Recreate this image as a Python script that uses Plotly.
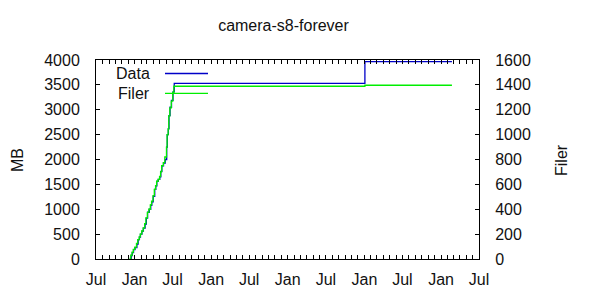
import plotly.graph_objects as go

# ---- data ----
data_dates = ["2017-12-11", "2017-12-16", "2017-12-21", "2017-12-27", "2018-01-03",
              "2018-01-12", "2018-01-18", "2018-01-24", "2018-01-29", "2018-02-05",
              "2018-02-12", "2018-02-20", "2018-02-26", "2018-03-04", "2018-03-12",
              "2018-03-19", "2018-03-24", "2018-03-31", "2018-04-07", "2018-04-12",
              "2018-04-17", "2018-04-24", "2018-05-01", "2018-05-06", "2018-05-11",
              "2018-05-19", "2018-05-27", "2018-06-03", "2018-06-06", "2018-06-11",
              "2018-06-14", "2018-06-19", "2018-06-26", "2018-07-03", "2018-07-09",
              "2021-01-03", "2022-02-22"]
data_mb = [15, 70, 130, 190, 230, 300, 390, 440, 500, 560, 620, 700, 820, 940, 1000,
           1080, 1150, 1260, 1400, 1470, 1560, 1600, 1650, 1760, 1870, 1930, 2000,
           2250, 2500, 2620, 2880, 3050, 3190, 3360, 3530, 3966, 3966]

filer_dates = ["2017-12-08", "2017-12-14", "2017-12-20", "2017-12-26", "2018-01-02",
               "2018-01-10", "2018-01-16", "2018-01-23", "2018-01-28", "2018-02-04",
               "2018-02-11", "2018-02-18", "2018-02-24", "2018-03-03", "2018-03-10",
               "2018-03-17", "2018-03-23", "2018-03-30", "2018-04-05", "2018-04-11",
               "2018-04-16", "2018-04-23", "2018-04-30", "2018-05-05", "2018-05-10",
               "2018-05-18", "2018-05-25", "2018-06-02", "2018-06-05", "2018-06-10",
               "2018-06-13", "2018-06-18", "2018-06-25", "2018-07-02", "2018-07-07",
               "2021-01-03", "2022-02-22"]
filer_count = [5, 30, 55, 78, 95, 125, 155, 178, 200, 225, 250, 285, 330, 375, 400,
               435, 465, 510, 560, 590, 625, 640, 665, 700, 750, 775, 820, 900, 1000,
               1045, 1150, 1215, 1270, 1340, 1389, 1397, 1397]

title_text = "camera-s8-forever"
series_names = ["Data", "Filer"]
y_title = "MB"
y2_title = "Filer"

# ---- layout constants (pixels) ----
W, H = 600, 300
L, R, T, B = 96, 479, 60, 259
FONT = "Liberation Sans, Arial, sans-serif"
FS = 16
BLUE = "#0000c8"
GREEN = "#00ee00"

def px_x(p):
    return (p - L) / (R - L)

def px_y(p):
    return (B - p) / (B - T)

fig = go.Figure()
fig.add_trace(go.Scatter(x=data_dates, y=data_mb, mode="lines", line_shape="hv",
                         line=dict(color=BLUE, width=1.3), name=series_names[0],
                         yaxis="y"))
fig.add_trace(go.Scatter(x=filer_dates, y=filer_count, mode="lines", line_shape="hv",
                         line=dict(color=GREEN, width=1.3), name=series_names[1],
                         yaxis="y2"))

axis_common = dict(showgrid=False, zeroline=False, showline=True, linecolor="black",
                   linewidth=1, ticks="inside", tickcolor="black", ticklen=4,
                   tickfont=dict(family=FONT, size=FS, color="#111"))

fig.update_layout(
    width=W, height=H,
    margin=dict(l=L, r=W - R, t=T, b=H - B),
    paper_bgcolor="white", plot_bgcolor="white",
    showlegend=False,
    title=dict(text=title_text, x=283.5 / W, y=1 - 25 / H, xanchor="center",
               yanchor="middle", xref="container", yref="container",
               font=dict(family=FONT, size=FS, color="#111")),
    xaxis=dict(type="date", range=["2017-07-01", "2022-07-01"], tick0="2017-07-01",
               dtick="M6", tickformat="%b", mirror="allticks", ticklabelstandoff=6,
               minor=dict(dtick="M1", ticks="inside", ticklen=2, tickcolor="black"),
               **axis_common),
    yaxis=dict(range=[0, 4000], dtick=500, ticklabelstandoff=12, **axis_common),
    yaxis2=dict(range=[0, 1600], dtick=200, overlaying="y", side="right",
                ticklabelstandoff=12, **axis_common),
)

ann_font = dict(family=FONT, size=FS, color="#111")
fig.add_annotation(text=series_names[0], xref="paper", yref="paper", x=px_x(152),
                   y=px_y(73.5), xanchor="right", yanchor="middle", showarrow=False,
                   font=ann_font)
fig.add_annotation(text=series_names[1], xref="paper", yref="paper", x=px_x(152),
                   y=px_y(93.3), xanchor="right", yanchor="middle", showarrow=False,
                   font=ann_font)
fig.add_shape(type="line", xref="paper", yref="paper", x0=px_x(165), x1=px_x(208),
              y0=px_y(73.5), y1=px_y(73.5), line=dict(color=BLUE, width=1.3))
fig.add_shape(type="line", xref="paper", yref="paper", x0=px_x(165), x1=px_x(208),
              y0=px_y(93.3), y1=px_y(93.3), line=dict(color=GREEN, width=1.3))

fig.add_annotation(text=y_title, xref="paper", yref="paper", x=px_x(17), y=px_y(160),
                   xanchor="center", yanchor="middle", textangle=-90, showarrow=False,
                   font=ann_font)
fig.add_annotation(text=y2_title, xref="paper", yref="paper", x=px_x(561), y=px_y(160),
                   xanchor="center", yanchor="middle", textangle=-90, showarrow=False,
                   font=ann_font)

fig.write_html("out.html")
